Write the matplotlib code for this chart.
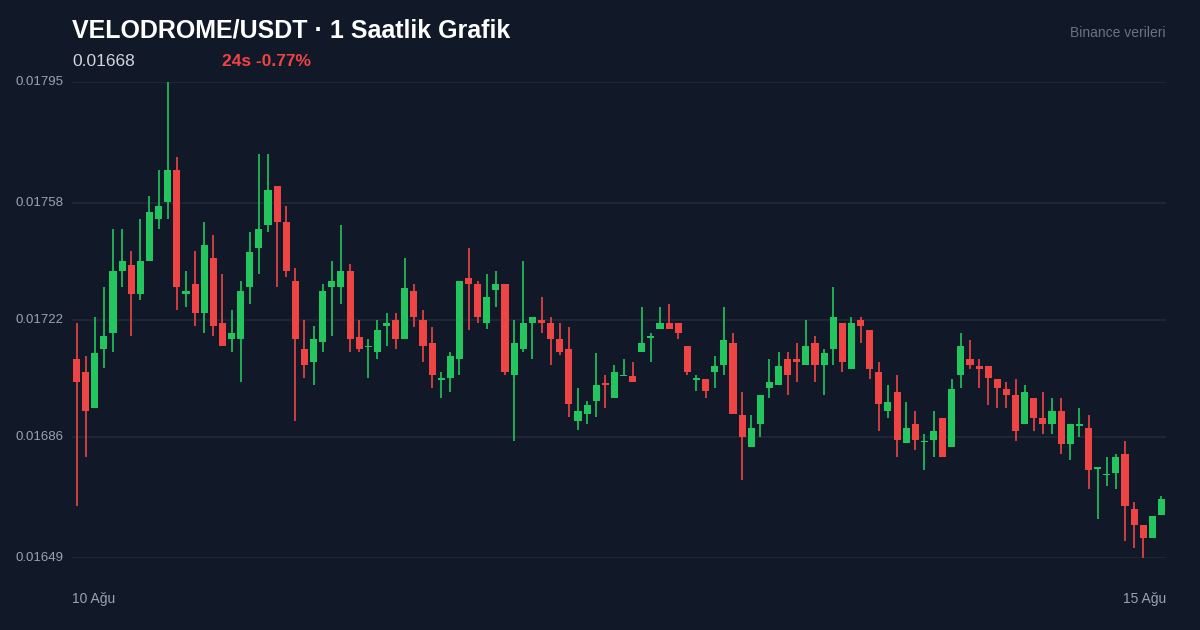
import matplotlib
matplotlib.use("Agg")
import matplotlib.pyplot as plt
import numpy as np

plt.rcParams["font.family"] = ["Liberation Sans", "DejaVu Sans"]

# Hourly OHLC, in units of 1e-5 USDT
opens = [1710.0, 1706.1, 1695.0, 1713.1, 1718.0, 1737.0, 1738.9, 1730.0, 1740.1, 1753.0,
         1758.2, 1768.0, 1730.0, 1733.0, 1724.2, 1741.0, 1721.1, 1716.2, 1716.2, 1732.1,
         1744.1, 1751.1, 1763.1, 1752.1, 1734.0, 1713.1, 1709.1, 1715.3, 1732.1, 1732.1,
         1737.0, 1716.8, 1713.7, 1712.2, 1720.2, 1722.0, 1716.2, 1730.9, 1722.0, 1715.0,
         1703.6, 1704.2, 1710.0, 1734.9, 1733.0, 1721.1, 1731.2, 1733.0, 1705.1, 1713.1,
         1721.1, 1722.0, 1721.1, 1716.2, 1713.1, 1691.0, 1693.2, 1697.2, 1702.7, 1698.1,
         1704.8, 1704.8, 1712.2, 1716.5, 1719.2, 1721.1, 1721.1, 1714.0, 1703.6, 1703.9,
         1706.1, 1708.2, 1715.0, 1692.9, 1683.1, 1690.1, 1701.2, 1702.1, 1710.0, 1710.0,
         1708.2, 1715.0, 1708.2, 1713.1, 1721.1, 1707.0, 1722.0, 1718.9, 1706.1, 1694.1,
         1699.9, 1684.3, 1690.1, 1684.6, 1685.2, 1691.9, 1683.1, 1705.1, 1710.0, 1707.9,
         1707.9, 1703.9, 1700.8, 1699.0, 1690.1, 1698.1, 1691.9, 1690.1, 1694.1, 1684.0,
         1689.5, 1688.9, 1676.3, 1674.5, 1675.1, 1681.0, 1664.0, 1659.1, 1655.1, 1662.2]
highs = [1721.1, 1711.0, 1722.9, 1732.1, 1749.9, 1749.9, 1743.2, 1753.0, 1760.0, 1768.0,
         1795.0, 1772.0, 1737.0, 1743.2, 1752.1, 1748.1, 1736.1, 1725.1, 1734.0, 1749.0,
         1772.9, 1772.9, 1763.1, 1757.0, 1738.0, 1722.0, 1720.2, 1733.0, 1740.1, 1751.1,
         1739.2, 1722.0, 1716.2, 1722.0, 1724.2, 1724.2, 1741.0, 1733.0, 1725.1, 1719.9,
         1706.1, 1712.2, 1734.0, 1744.1, 1734.0, 1736.1, 1737.0, 1733.0, 1722.0, 1740.1,
         1722.9, 1729.1, 1722.9, 1721.1, 1719.9, 1701.2, 1697.2, 1711.9, 1705.1, 1708.2,
         1710.0, 1709.1, 1726.0, 1718.0, 1726.0, 1726.9, 1721.1, 1714.0, 1705.1, 1703.9,
         1711.0, 1726.0, 1718.0, 1699.9, 1692.9, 1699.0, 1710.0, 1712.2, 1712.2, 1715.0,
         1722.0, 1717.1, 1713.1, 1732.1, 1721.1, 1722.9, 1722.9, 1718.9, 1709.1, 1702.1,
         1705.1, 1696.9, 1694.1, 1687.0, 1694.1, 1691.9, 1703.9, 1718.0, 1715.9, 1710.0,
         1707.9, 1703.9, 1703.0, 1703.9, 1702.1, 1698.1, 1699.9, 1698.1, 1698.1, 1684.0,
         1695.0, 1692.9, 1676.9, 1680.0, 1681.0, 1684.9, 1666.2, 1659.1, 1661.9, 1668.0]
lows = [1665.0, 1680.0, 1695.0, 1707.3, 1712.2, 1732.1, 1717.1, 1728.1, 1740.1, 1749.9,
        1753.0, 1725.1, 1726.0, 1720.2, 1718.0, 1717.1, 1714.0, 1712.2, 1703.0, 1726.9,
        1736.1, 1749.0, 1732.1, 1735.2, 1691.0, 1704.2, 1702.1, 1712.2, 1717.1, 1726.9,
        1712.2, 1712.2, 1704.2, 1710.0, 1714.0, 1713.1, 1716.2, 1719.9, 1709.1, 1701.2,
        1698.1, 1699.9, 1705.1, 1718.9, 1721.1, 1719.2, 1726.0, 1705.1, 1684.9, 1712.2,
        1710.0, 1718.0, 1708.2, 1711.3, 1692.3, 1688.3, 1690.1, 1692.3, 1695.0, 1698.1,
        1704.8, 1703.0, 1712.2, 1709.1, 1719.2, 1719.2, 1716.2, 1705.1, 1700.2, 1698.1,
        1701.2, 1705.1, 1693.2, 1672.9, 1683.1, 1686.1, 1698.1, 1702.1, 1699.0, 1703.0,
        1708.2, 1703.0, 1699.0, 1708.2, 1706.1, 1707.0, 1715.0, 1703.9, 1688.0, 1691.9,
        1680.0, 1684.3, 1682.1, 1676.0, 1680.0, 1680.0, 1683.1, 1701.2, 1707.0, 1701.2,
        1695.9, 1695.0, 1695.0, 1684.9, 1690.1, 1688.0, 1687.0, 1687.0, 1681.0, 1679.1,
        1686.1, 1670.2, 1661.0, 1671.1, 1670.2, 1654.2, 1652.1, 1649.0, 1655.1, 1662.2]
closes = [1703.0, 1694.1, 1711.9, 1717.1, 1737.0, 1740.1, 1730.0, 1740.1, 1755.1, 1757.0,
          1768.0, 1732.1, 1730.9, 1724.2, 1745.0, 1720.2, 1714.0, 1718.0, 1730.9, 1742.9,
          1749.9, 1761.9, 1752.1, 1737.0, 1716.2, 1708.2, 1716.2, 1730.9, 1734.0, 1737.0,
          1716.2, 1713.1, 1714.0, 1718.9, 1721.1, 1716.2, 1731.8, 1722.9, 1714.0, 1705.1,
          1704.2, 1711.0, 1734.0, 1733.0, 1722.9, 1729.1, 1733.0, 1706.1, 1715.0, 1721.1,
          1722.9, 1721.1, 1716.2, 1712.2, 1696.2, 1694.1, 1695.9, 1702.1, 1702.1, 1706.1,
          1705.1, 1703.0, 1715.0, 1717.1, 1721.1, 1719.2, 1718.0, 1706.1, 1704.2, 1700.2,
          1707.9, 1715.9, 1693.2, 1686.1, 1688.9, 1699.0, 1703.0, 1707.9, 1705.1, 1709.1,
          1714.0, 1708.2, 1711.9, 1722.9, 1709.1, 1721.1, 1720.2, 1707.0, 1696.2, 1696.9,
          1685.2, 1688.9, 1685.2, 1684.9, 1688.0, 1680.0, 1700.8, 1714.0, 1708.2, 1707.0,
          1704.2, 1701.2, 1699.0, 1688.0, 1699.9, 1691.9, 1690.1, 1694.1, 1684.0, 1690.1,
          1690.1, 1676.0, 1676.9, 1674.8, 1680.0, 1665.0, 1659.1, 1655.1, 1661.9, 1667.1]

y_ticks = [0.01795, 0.01758, 0.01722, 0.01686, 0.01649]
x_labels = ["10 Ağu", "15 Ağu"]
title = "VELODROME/USDT · 1 Saatlik Grafik"
last_price = "0.01668"
change_24h = "24s -0.77%"

BG = "#111827"
GRID = "#1f2937"
UP = "#22c55e"
DOWN = "#ef4444"

o = np.array(opens) * 1e-5
h = np.array(highs) * 1e-5
l = np.array(lows) * 1e-5
c = np.array(closes) * 1e-5
x = np.arange(len(o))
up = c >= o
cols = np.where(up, UP, DOWN)

fig = plt.figure(figsize=(12, 6.3), dpi=100, facecolor=BG)
ax = fig.add_axes([72 / 1200, 1 - 558 / 630, 1094 / 1200, 476 / 630])
ax.set_facecolor(BG)

for t in y_ticks:
    ax.axhline(t, color=GRID, linewidth=1.2, zorder=0)

ax.vlines(x, l, h, colors=cols, linewidth=1.2, zorder=2)
body = np.maximum(np.abs(c - o), 0.0000015)
ax.bar(x, body, bottom=np.minimum(o, c), width=0.78, color=cols, zorder=3)

ax.set_xlim(-0.5, len(o) - 0.5)
ax.set_ylim(min(y_ticks), max(y_ticks))
ax.set_xticks([])
ax.set_yticks([])
for s in ax.spines.values():
    s.set_visible(False)

for t in y_ticks:
    fig.text(15 / 1200, ax.transData.transform((0, t))[1] / 630, f"{t:.5f}",
             color="#9ca3af", fontsize=9.5, ha="left", va="center")

fig.text(72 / 1200, 1 - 30 / 630, title, color="white", fontsize=18,
         fontweight="bold", ha="left", va="center")
fig.text(72 / 1200, 1 - 61 / 630, last_price, color="#d1d5db", fontsize=12.5,
         ha="left", va="center")
fig.text(222 / 1200, 1 - 61 / 630, change_24h, color=DOWN, fontsize=12.5,
         fontweight="bold", ha="left", va="center")
fig.text(1166 / 1200, 1 - 33 / 630, "Binance verileri", color="#6b7280",
         fontsize=10, ha="right", va="center")
fig.text(72 / 1200, 1 - 599 / 630, x_labels[0], color="#9ca3af", fontsize=10,
         ha="left", va="center")
fig.text(1166 / 1200, 1 - 599 / 630, x_labels[1], color="#9ca3af", fontsize=10,
         ha="right", va="center")

fig.savefig("out.png", dpi=100, facecolor=BG)
